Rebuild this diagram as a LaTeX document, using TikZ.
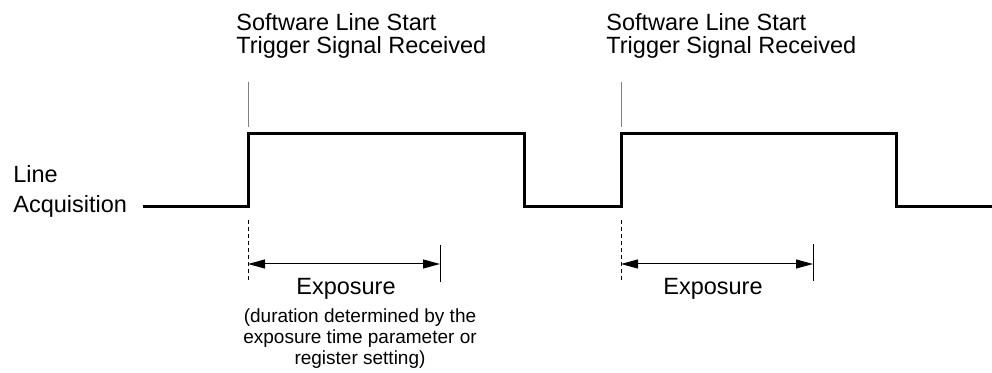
\documentclass[tikz,border=0pt]{standalone}
\usepackage{fontspec}
\setmainfont{Liberation Sans}
\usetikzlibrary{arrows.meta}

\begin{document}
\begin{tikzpicture}[x=0.5pt,y=-0.5pt,>={Triangle[length=8.5pt,width=4.5pt]},
		signal/.style={line width=1.5pt,line join=miter},
		trigger/.style={draw=gray,line width=0.5pt},
		marker/.style={draw,dash pattern=on 2pt off 1.5pt,line width=0.5pt},
		tick/.style={draw,line width=0.5pt},
		span/.style={draw=black,<->,line width=0.5pt},
		title text/.style={font=\fontsize{11.75}{11.5}\selectfont,align=left,inner sep=0pt,anchor=north west},
		note text/.style={font=\fontsize{9.5}{10.5}\selectfont,align=center,inner sep=0pt,anchor=north}]
		\useasboundingbox (0,0) rectangle (992,373);
		% signal
		\coordinate (s0) at (143,207);
		\coordinate (s1) at (248,207);
		\coordinate (s2) at (248,134);
		\coordinate (s3) at (524,134);
		\coordinate (s4) at (524,207);
		\coordinate (s5) at (621,207);
		\coordinate (s6) at (621,134);
		\coordinate (s7) at (896,134);
		\coordinate (s8) at (896,207);
		\coordinate (s9) at (992,207);
		\draw[signal] (s0) -- (s1) -- (s2) -- (s3) -- (s4) -- (s5) -- (s6) -- (s7) -- (s8) -- (s9);
		
		\node[title text] (trigA) at (236,13) {Software Line Start\\Trigger Signal Received};
		\node[title text] (trigB) at (606,13) {Software Line Start\\Trigger Signal Received};
		\node[title text,font=\fontsize{11.75}{15}\selectfont] (acq) at (13,165) {Line\\Acquisition};
		\node[font=\fontsize{11.75}{11.5}\selectfont,inner sep=0pt,anchor=base] (expA) at (346,295) {Exposure};
		\node[font=\fontsize{11.75}{11.5}\selectfont,inner sep=0pt,anchor=base] (expB) at (713,295) {Exposure};
		\node[note text] (noteA) at (360,308) {(duration determined by the\\exposure time parameter or\\register setting)};
		
		\coordinate (trgA top) at (248,82);
		\coordinate (trgA end) at (248,127);
		\coordinate (trgB top) at (621,82);
		\coordinate (trgB end) at (621,127);
		\coordinate (dashA top) at (248,220);
		\coordinate (dashA end) at (248,282);
		\coordinate (dashB top) at (621,220);
		\coordinate (dashB end) at (621,282);
		\coordinate (tickA top) at (440,245);
		\coordinate (tickA end) at (440,282);
		\coordinate (tickB top) at (813,244);
		\coordinate (tickB end) at (813,281);
		\coordinate (expA start) at (248,264);
		\coordinate (expA stop) at (440,264);
		\coordinate (expB start) at (621,264);
		\coordinate (expB stop) at (813,264);
		\path
		(trgA top) edge[trigger] (trgA end)
		(trgB top) edge[trigger] (trgB end)
		(dashA top) edge[marker] (dashA end)
		(dashB top) edge[marker] (dashB end)
		(tickA top) edge[tick] (tickA end)
		(tickB top) edge[tick] (tickB end)
		(expA start) edge[span] (expA stop)
		(expB start) edge[span] (expB stop);
\end{tikzpicture}
\end{document}
